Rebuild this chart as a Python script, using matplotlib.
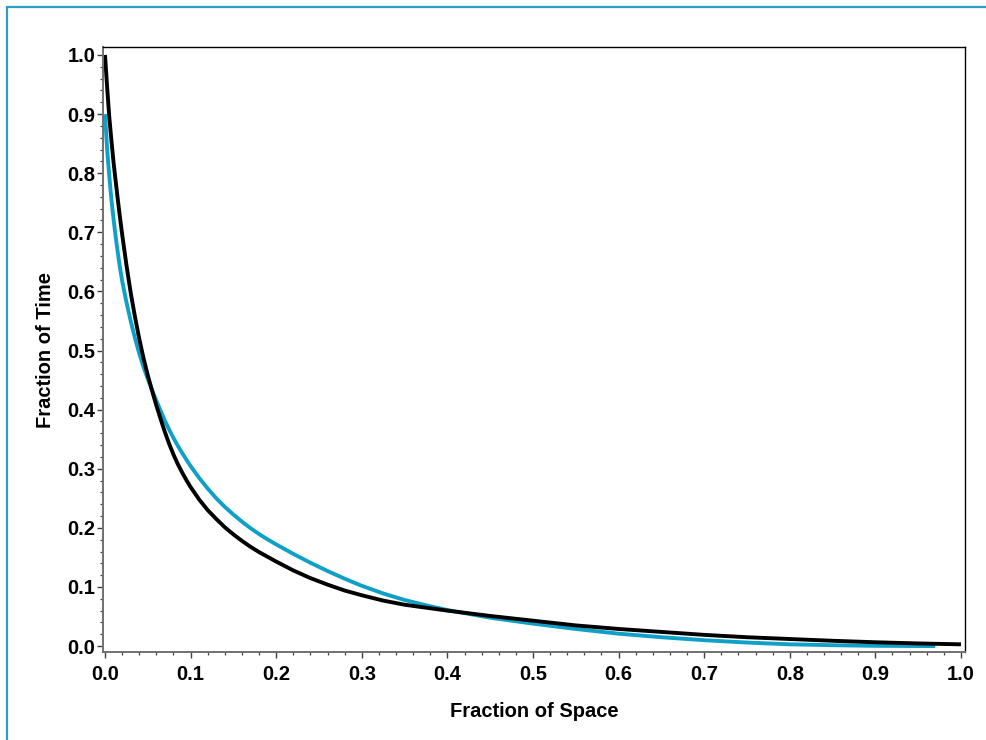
import matplotlib.pyplot as plt
from matplotlib.patches import Rectangle
from matplotlib.ticker import MultipleLocator

# values
space_black = [0.0, 0.0025, 0.005, 0.0075, 0.01, 0.0125, 0.015, 0.0175, 0.02, 0.025,
               0.03, 0.035, 0.04, 0.045, 0.05, 0.055, 0.06, 0.065, 0.07, 0.075, 0.08,
               0.085, 0.09, 0.095, 0.10, 0.11, 0.12, 0.13, 0.14, 0.15, 0.16, 0.17, 0.18,
               0.19, 0.20, 0.22, 0.24, 0.26, 0.28, 0.30, 0.325, 0.35, 0.375, 0.40, 0.45,
               0.50, 0.55, 0.60, 0.65, 0.70, 0.75, 0.80, 0.85, 0.90, 0.95, 1.0]
time_black = [1.0, 0.945, 0.895, 0.855, 0.818, 0.786, 0.755, 0.725, 0.697, 0.645,
              0.598, 0.557, 0.520, 0.487, 0.458, 0.432, 0.407, 0.384, 0.362, 0.342, 0.324,
              0.308, 0.294, 0.281, 0.269, 0.248, 0.230, 0.215, 0.201, 0.189, 0.178, 0.168, 0.159,
              0.151, 0.143, 0.128, 0.115, 0.104, 0.094, 0.086, 0.077, 0.070, 0.065, 0.060, 0.051,
              0.043, 0.035, 0.029, 0.024, 0.019, 0.015, 0.012, 0.009, 0.0065, 0.0045, 0.003]

space_cyan = [0.0, 0.0025, 0.005, 0.0075, 0.01, 0.0125, 0.015, 0.0175, 0.02, 0.025,
              0.03, 0.035, 0.04, 0.045, 0.05, 0.055, 0.06, 0.065, 0.07, 0.075, 0.08,
              0.085, 0.09, 0.095, 0.10, 0.11, 0.12, 0.13, 0.14, 0.15, 0.16, 0.17, 0.18,
              0.19, 0.20, 0.22, 0.24, 0.26, 0.28, 0.30, 0.325, 0.35, 0.375, 0.40, 0.45,
              0.50, 0.55, 0.60, 0.65, 0.70, 0.75, 0.80, 0.85, 0.90, 0.97]
time_cyan = [0.900, 0.840, 0.795, 0.755, 0.722, 0.692, 0.665, 0.640, 0.618, 0.582,
             0.550, 0.521, 0.495, 0.472, 0.452, 0.433, 0.415, 0.398, 0.381, 0.366, 0.352,
             0.339, 0.327, 0.3155, 0.3045, 0.2845, 0.2665, 0.250, 0.2355, 0.2225, 0.2105, 0.1995, 0.1895,
             0.1805, 0.172, 0.156, 0.141, 0.127, 0.114, 0.102, 0.089, 0.078, 0.069, 0.061, 0.048,
             0.038, 0.029, 0.021, 0.015, 0.010, 0.006, 0.003, 0.0015, 0.0005, 0.0]

plt.rcParams['font.family'] = ['Liberation Sans', 'DejaVu Sans']
plt.rcParams['font.weight'] = 'bold'

fig = plt.figure(figsize=(9.86, 7.4), dpi=100)
ax = fig.add_axes([0.1045, 0.1189, 0.8742, 0.8176])

ax.plot(space_cyan, time_cyan, color='#0fa0c8', lw=2.8, solid_capstyle='butt')
ax.plot(space_black, time_black, color='black', lw=2.8, solid_capstyle='butt')

ax.set_xlim(-0.0023, 1.0047)
ax.set_ylim(-0.010, 1.0135)
ax.xaxis.set_major_locator(MultipleLocator(0.1))
ax.xaxis.set_minor_locator(MultipleLocator(0.02))
ax.yaxis.set_major_locator(MultipleLocator(0.1))
ax.yaxis.set_minor_locator(MultipleLocator(0.02))
ax.xaxis.set_major_formatter('{x:.1f}')
ax.yaxis.set_major_formatter('{x:.1f}')

for s in ['left', 'bottom']:
    ax.spines[s].set_color('#707070')
    ax.spines[s].set_linewidth(1.4)
for s in ['top', 'right']:
    ax.spines[s].set_color('black')
    ax.spines[s].set_linewidth(1.0)

ax.tick_params(which='major', direction='out', length=4.5, width=1.0, color='#404040',
               labelsize=14.5)
ax.tick_params(which='minor', direction='out', length=2.5, width=0.9, color='#404040')
ax.tick_params(axis='x', which='major', pad=5)
ax.tick_params(axis='y', which='major', pad=1)

ax.set_xlabel('Fraction of Space', fontsize=14.5, fontweight='bold', labelpad=13)
ax.set_ylabel('Fraction of Time', fontsize=14.5, fontweight='bold', labelpad=9)

# outer frame (only top and left edges are visible in the reference)
fig.patches.append(Rectangle((6.5 / 986, -0.1), 1.2, 1.1 - 6.5 / 740,
                             transform=fig.transFigure, fill=False,
                             edgecolor='#2e9dc4', lw=1.6))

fig.savefig('out.png', dpi=100)
